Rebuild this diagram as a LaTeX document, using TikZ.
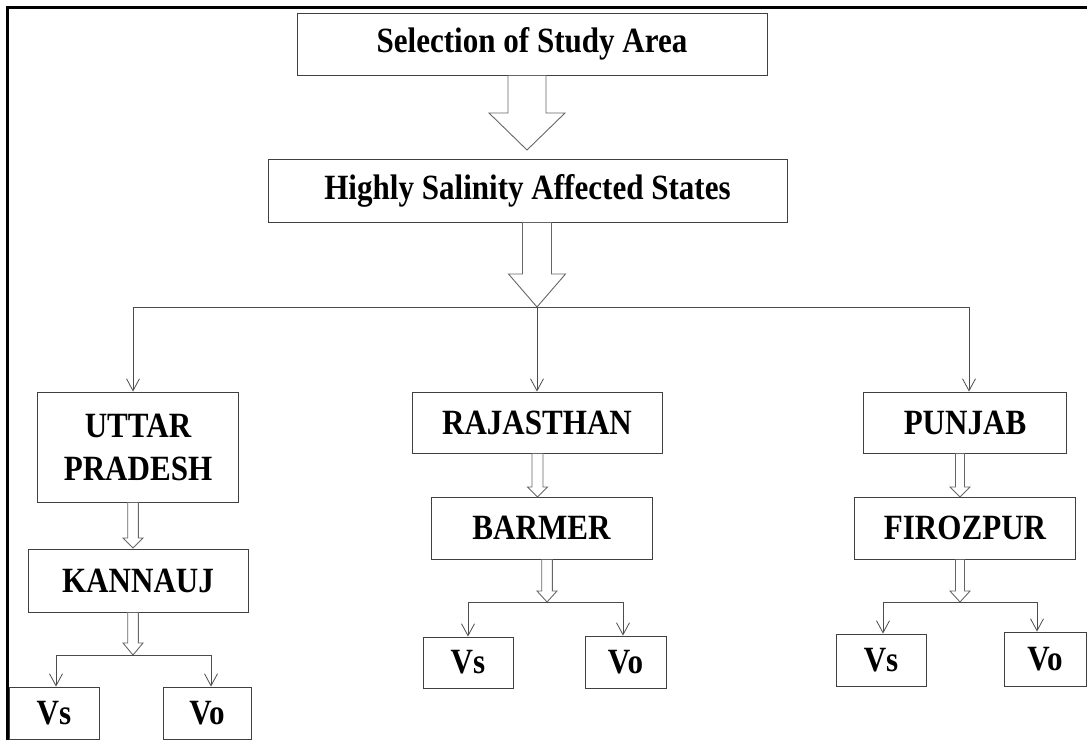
\documentclass[tikz,border=0pt]{standalone}
\usepackage{fontspec}
\setmainfont{Liberation Serif}
\newfontfamily\boxfont{Liberation Serif}[FakeStretch=0.875]
\usetikzlibrary{calc,arrows.meta}

\newcommand{\blockdown}[5]{%
  \draw[block arrow] ($(#2 |- #1.south)+(-#3,0)$) -- ($(#2)+(-#3,-#5)$) -- ($(#2)+(-#4,-#5)$) -- (#2)
    -- ($(#2)+(#4,-#5)$) -- ($(#2)+(#3,-#5)$) -- ($(#2 |- #1.south)+(#3,0)$) -- cycle;}

\begin{document}
\begin{tikzpicture}[
  x=1pt, y=-1pt,
  every node/.style={draw=black!75, line width=0.9pt, fill=white, inner sep=0pt, align=center,
    font=\boxfont\fontsize{35.5}{43}\selectfont\bfseries},
  block arrow/.style={draw=black!60, line width=0.9pt, fill=white},
  feed/.style={draw=black!70, line width=0.8pt, -{Straight Barb[length=12pt,width=13pt]}}
]
\useasboundingbox (0,0) rectangle (1087,740);
\draw[line width=3pt] (7,740) -- (7,7) -- (1087,7);

\node[minimum width=470pt, minimum height=62pt] (select) at (532,44) {Selection of Study Area};
\node[minimum width=519pt, minimum height=63pt] (states) at (527.5,190.5) {Highly Salinity Affected States};

\node[minimum width=201pt, minimum height=110pt] (up) at (138,447) {UTTAR\\PRADESH};
\node[minimum width=220pt, minimum height=63pt] (kannauj) at (138,580.5) {KANNAUJ};
\node[minimum width=90pt, minimum height=52pt] (kvs) at (54,713) {Vs};
\node[minimum width=88pt, minimum height=52pt] (kvo) at (207,713) {Vo};

\node[minimum width=250pt, minimum height=61pt] (raj) at (537,422.5) {RAJASTHAN};
\node[minimum width=221pt, minimum height=62pt] (barmer) at (541.5,528) {BARMER};
\node[minimum width=90pt, minimum height=51pt] (bvs) at (468,662.5) {Vs};
\node[minimum width=81pt, minimum height=52pt] (bvo) at (625.5,662) {Vo};

\node[minimum width=203pt, minimum height=61pt] (pun) at (965,422.5) {PUNJAB};
\node[minimum width=221pt, minimum height=62pt] (firoz) at (965,528) {FIROZPUR};
\node[minimum width=90pt, minimum height=52pt] (fvs) at (881,660) {Vs};
\node[minimum width=82pt, minimum height=54pt] (fvo) at (1045,659) {Vo};

\coordinate (t1) at (527,150);
\coordinate (t2) at (537,307);
\coordinate (t3) at (133,548);
\coordinate (t4) at (133,655);
\coordinate (t5) at (537.5,497);
\coordinate (t6) at (547,602);
\coordinate (t7) at (960,497);
\coordinate (t8) at (960,602);

\blockdown{select}{t1}{19}{38}{37}
\blockdown{states}{t2}{14.5}{28.5}{33}
\blockdown{up}{t3}{5.3}{10}{10}
\blockdown{kannauj}{t4}{5.3}{10}{12}
\blockdown{raj}{t5}{5.5}{10}{10}
\blockdown{barmer}{t6}{5.3}{10}{11}
\blockdown{pun}{t7}{4.5}{10}{10}
\blockdown{firoz}{t8}{4.5}{10}{11}

\draw[feed] (t2) -- (raj.north);
\draw[feed] (t2) -| ($(up.north)+(-5,0)$);
\draw[feed] (t2) -| ($(pun.north)+(4,0)$);

\draw[feed] (t4) -| ($(kvs.north)+(2,0)$);
\draw[feed] (t4) -| ($(kvo.north)+(4,0)$);
\draw[feed] (t6) -| (bvs.north);
\draw[feed] (t6) -| ($(bvo.north)+(-2.5,0)$);
\draw[feed] (t8) -| ($(fvs.north)+(2,0)$);
\draw[feed] (t8) -| ($(fvo.north)+(-8,0)$);
\end{tikzpicture}
\end{document}
